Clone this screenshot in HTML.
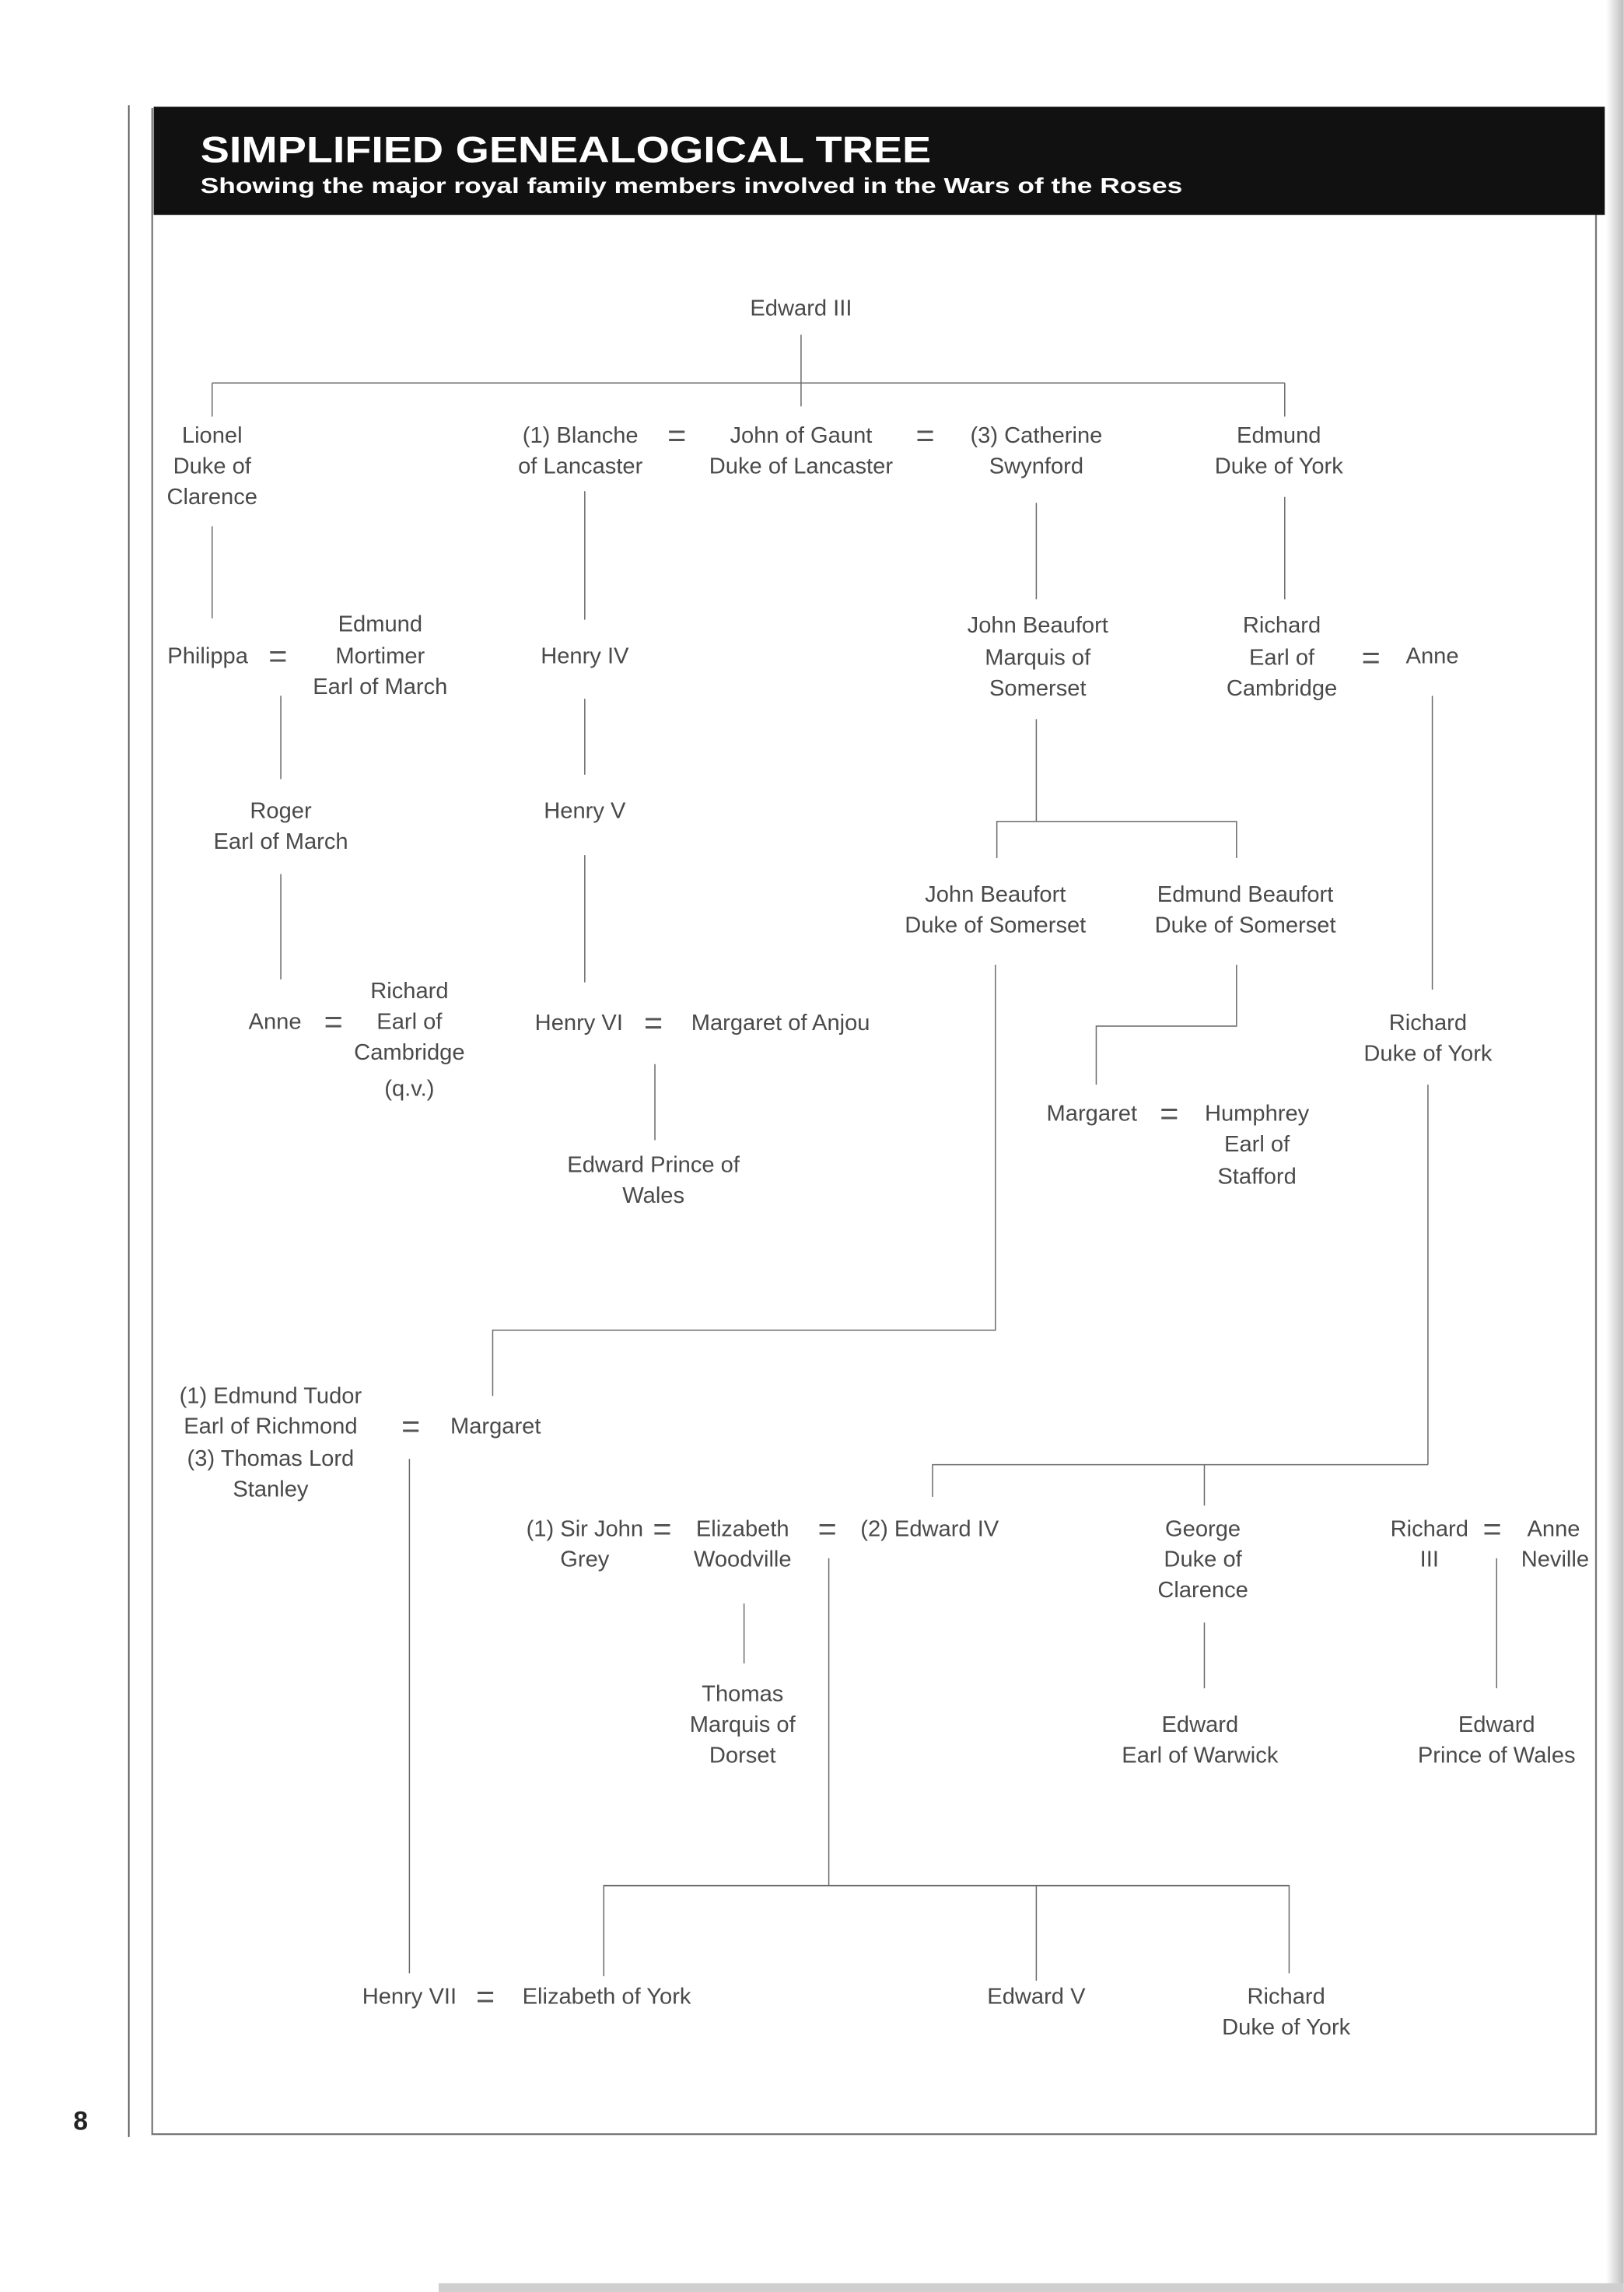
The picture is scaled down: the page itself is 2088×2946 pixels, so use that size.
<!DOCTYPE html>
<html><head><meta charset="utf-8"><style>
html,body{margin:0;padding:0;background:#fff;}
svg{display:block;}
text{font-family:"Liberation Sans",sans-serif;}
.t{font-size:15.5px;fill:#4a4a4a;text-anchor:middle;dominant-baseline:central;}
.e{font-size:22px;fill:#555;text-anchor:middle;dominant-baseline:central;}
line,polyline{stroke:#6a6a6a;stroke-width:0.8;fill:none;}
</style></head><body>
<svg width="2088" height="2946" viewBox="0 0 1111 1568" xmlns="http://www.w3.org/2000/svg">
<defs><linearGradient id="g" x1="0" x2="1" y1="0" y2="0"><stop offset="0" stop-color="#fff"/><stop offset="1" stop-color="#bdbdbd"/></linearGradient></defs>
<rect x="0" y="0" width="1111" height="1568" fill="#fff"/>
<rect x="1099" y="0" width="12" height="1568" fill="url(#g)"/>
<rect x="300" y="1562" width="811" height="6" fill="#cfcfcf"/>
<line x1="88" y1="72" x2="88" y2="1462" style="stroke:#555;stroke-width:1"/>
<polyline points="104,74 104,1460 1092,1460 1092,147" style="stroke:#777;stroke-width:1.2"/>
<rect x="105" y="73" width="993" height="74" fill="#111"/>
<text x="137" y="111" font-size="25" font-weight="bold" fill="#fff" textLength="500" lengthAdjust="spacingAndGlyphs">SIMPLIFIED GENEALOGICAL TREE</text>
<text x="137" y="132" font-size="15" font-weight="bold" fill="#fff" textLength="672" lengthAdjust="spacingAndGlyphs">Showing the major royal family members involved in the Wars of the Roses</text>
<text x="50" y="1457" font-size="18" font-weight="bold" fill="#222">8</text>

<!-- lines -->
<line x1="548" y1="229" x2="548" y2="278"/>
<line x1="145" y1="262" x2="879" y2="262"/>
<line x1="145" y1="262" x2="145" y2="285"/>
<line x1="879" y1="262" x2="879" y2="285"/>
<line x1="145" y1="360" x2="145" y2="423"/>
<line x1="400" y1="336" x2="400" y2="424"/>
<line x1="709" y1="344" x2="709" y2="410"/>
<line x1="879" y1="340" x2="879" y2="410"/>
<line x1="192" y1="476" x2="192" y2="533"/>
<line x1="400" y1="478" x2="400" y2="530"/>
<line x1="709" y1="492" x2="709" y2="562"/>
<polyline points="682,587 682,562 846,562 846,587"/>
<line x1="980" y1="476" x2="980" y2="677"/>
<line x1="192" y1="598" x2="192" y2="670"/>
<line x1="400" y1="585" x2="400" y2="672"/>
<polyline points="846,660 846,702 750,702 750,742"/>
<line x1="448" y1="728" x2="448" y2="780"/>
<polyline points="681,660 681,910 337,910 337,955"/>
<line x1="280" y1="998" x2="280" y2="1350"/>
<line x1="977" y1="742" x2="977" y2="1002"/>
<polyline points="638,1024 638,1002 977,1002"/>
<line x1="824" y1="1002" x2="824" y2="1030"/>
<line x1="567" y1="1066" x2="567" y2="1290"/>
<line x1="509" y1="1097" x2="509" y2="1138"/>
<line x1="824" y1="1110" x2="824" y2="1155"/>
<line x1="1024" y1="1066" x2="1024" y2="1155"/>
<polyline points="413,1352 413,1290 882,1290 882,1350"/>
<line x1="709" y1="1290" x2="709" y2="1355"/>

<!-- text -->
<text class="t" x="548" y="211">Edward III</text>
<text class="t" x="145" y="298">Lionel</text><text class="t" x="145" y="319">Duke of</text><text class="t" x="145" y="340">Clarence</text>
<text class="t" x="397" y="298">(1) Blanche</text><text class="t" x="397" y="319">of Lancaster</text>
<text class="e" x="463" y="298">=</text>
<text class="t" x="548" y="298">John of Gaunt</text><text class="t" x="548" y="319">Duke of Lancaster</text>
<text class="e" x="633" y="298">=</text>
<text class="t" x="709" y="298">(3) Catherine</text><text class="t" x="709" y="319">Swynford</text>
<text class="t" x="875" y="298">Edmund</text><text class="t" x="875" y="319">Duke of York</text>

<text class="t" x="142" y="449">Philippa</text><text class="e" x="190" y="449">=</text>
<text class="t" x="260" y="427">Edmund</text><text class="t" x="260" y="449">Mortimer</text><text class="t" x="260" y="470">Earl of March</text>
<text class="t" x="400" y="449">Henry IV</text>
<text class="t" x="710" y="428">John Beaufort</text><text class="t" x="710" y="450">Marquis of</text><text class="t" x="710" y="471">Somerset</text>
<text class="t" x="877" y="428">Richard</text><text class="t" x="877" y="450">Earl of</text><text class="t" x="877" y="471">Cambridge</text>
<text class="e" x="938" y="450">=</text><text class="t" x="980" y="449">Anne</text>

<text class="t" x="192" y="555">Roger</text><text class="t" x="192" y="576">Earl of March</text>
<text class="t" x="400" y="555">Henry V</text>
<text class="t" x="681" y="612">John Beaufort</text><text class="t" x="681" y="633">Duke of Somerset</text>
<text class="t" x="852" y="612">Edmund Beaufort</text><text class="t" x="852" y="633">Duke of Somerset</text>

<text class="t" x="188" y="699">Anne</text><text class="e" x="228" y="699">=</text>
<text class="t" x="280" y="678">Richard</text><text class="t" x="280" y="699">Earl of</text><text class="t" x="280" y="720">Cambridge</text><text class="t" x="280" y="745">(q.v.)</text>
<text class="t" x="396" y="700">Henry VI</text><text class="e" x="447" y="700">=</text><text class="t" x="534" y="700">Margaret of Anjou</text>
<text class="t" x="977" y="700">Richard</text><text class="t" x="977" y="721">Duke of York</text>
<text class="t" x="747" y="762">Margaret</text><text class="e" x="800" y="762">=</text>
<text class="t" x="860" y="762">Humphrey</text><text class="t" x="860" y="783">Earl of</text><text class="t" x="860" y="805">Stafford</text>
<text class="t" x="447" y="797">Edward Prince of</text><text class="t" x="447" y="818">Wales</text>

<text class="t" x="185" y="955">(1) Edmund Tudor</text><text class="t" x="185" y="976">Earl of Richmond</text><text class="t" x="185" y="998">(3) Thomas Lord</text><text class="t" x="185" y="1019">Stanley</text>
<text class="e" x="281" y="976">=</text><text class="t" x="339" y="976">Margaret</text>

<text class="t" x="400" y="1046">(1) Sir John</text><text class="t" x="400" y="1067">Grey</text>
<text class="e" x="453" y="1046">=</text>
<text class="t" x="508" y="1046">Elizabeth</text><text class="t" x="508" y="1067">Woodville</text>
<text class="e" x="566" y="1046">=</text>
<text class="t" x="636" y="1046">(2) Edward IV</text>
<text class="t" x="823" y="1046">George</text><text class="t" x="823" y="1067">Duke of</text><text class="t" x="823" y="1088">Clarence</text>
<text class="t" x="978" y="1046">Richard</text><text class="t" x="978" y="1067">III</text>
<text class="e" x="1021" y="1046">=</text>
<text class="t" x="1063" y="1046">Anne</text><text class="t" x="1064" y="1067">Neville</text>
<text class="t" x="508" y="1159">Thomas</text><text class="t" x="508" y="1180">Marquis of</text><text class="t" x="508" y="1201">Dorset</text>
<text class="t" x="821" y="1180">Edward</text><text class="t" x="821" y="1201">Earl of Warwick</text>
<text class="t" x="1024" y="1180">Edward</text><text class="t" x="1024" y="1201">Prince of Wales</text>

<text class="t" x="280" y="1366">Henry VII</text><text class="e" x="332" y="1366">=</text>
<text class="t" x="415" y="1366">Elizabeth of York</text>
<text class="t" x="709" y="1366">Edward V</text>
<text class="t" x="880" y="1366">Richard</text><text class="t" x="880" y="1387">Duke of York</text>
</svg>
</body></html>
